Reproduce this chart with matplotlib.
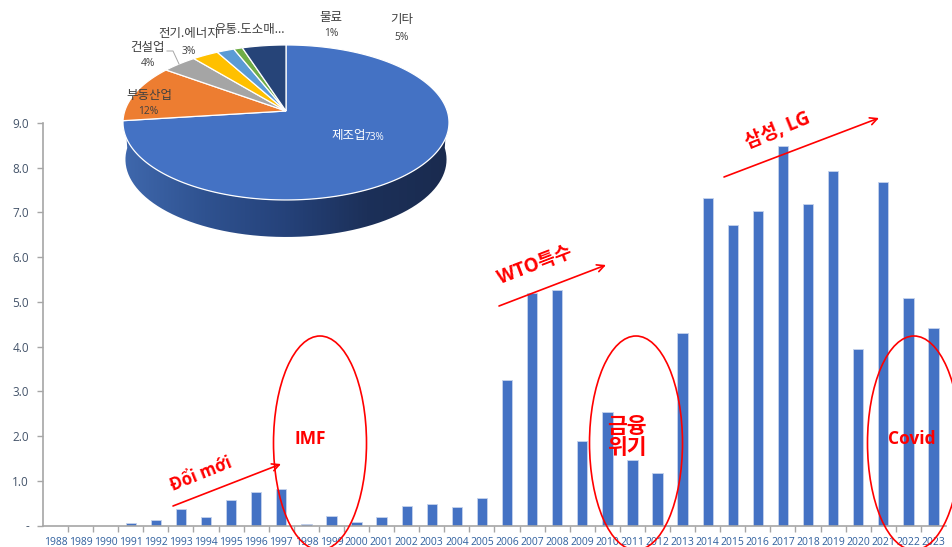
import numpy as np
import matplotlib
matplotlib.use("Agg")
import matplotlib.pyplot as plt
from matplotlib.colors import LinearSegmentedColormap
from matplotlib.patches import Ellipse, PathPatch
from matplotlib.path import Path

plt.rcParams["font.family"] = ["Open Sans", "Noto Sans CJK KR", "DejaVu Sans"]

W, H = 953, 547

years = list(range(1988, 2024))
fdi = [0, 0, 0, 0.05, 0.12, 0.38, 0.18, 0.58, 0.76, 0.82, 0.04, 0.21, 0.08,
       0.19, 0.44, 0.48, 0.41, 0.62, 3.26, 5.20, 5.27, 1.89, 2.54, 1.47, 1.17,
       4.30, 7.33, 6.73, 7.03, 8.48, 7.20, 7.92, 3.95, 7.69, 5.09, 4.41]
y_ticks = [0, 1, 2, 3, 4, 5, 6, 7, 8, 9]

sectors = ["제조업", "부동산업", "건설업", "전기.에너지", "유통.도소매...", "물료", "기타"]
shares = [73, 12, 4, 3, 2, 1, 5]
pie_colors = ["#4472c4", "#ed7d31", "#a5a5a5", "#ffc000", "#5b9bd5", "#70ad47", "#264478"]


def px_axes(fig, left, top, right, bottom, **kw):
    return fig.add_axes([left / W, 1 - bottom / H, (right - left) / W, (bottom - top) / H], **kw)


fig = plt.figure(figsize=(W / 100, H / 100), dpi=100)

# bar chart
ax = px_axes(fig, 43, 123, 946, 525.5)
x = np.arange(len(years))
ax.bar(x, fdi, width=0.41, color="#4472c4", edgecolor="#c5d3ec", linewidth=0.6)
ax.set_xlim(-0.5, len(years) - 0.5)
ax.set_ylim(0, 9)
ax.set_yticks(y_ticks)
ax.set_yticklabels(["-"] + [f"{v:.1f}" for v in y_ticks[1:]], fontsize=8.5, color="#44546a")
ax.set_xticks(x)
ax.set_xticklabels(years, fontsize=7.5, color="#2f5f9e")
ax.set_xticks(x[:-1] + 0.5, minor=True)
ax.tick_params(axis="x", which="major", length=0, pad=8)
ax.tick_params(axis="x", which="minor", length=4, color="#a6a6a6", width=1)
ax.tick_params(axis="y", length=4, color="#a6a6a6", width=1, pad=6)
for side in ["top", "right"]:
    ax.spines[side].set_visible(False)
for side in ["left", "bottom"]:
    ax.spines[side].set_color("#a6a6a6")
    ax.spines[side].set_linewidth(1.2)

# overlay in pixel coordinates for pie, labels, circles and arrows
ov = px_axes(fig, 0, 0, W, H)
ov.set_xlim(0, W)
ov.set_ylim(H, 0)
ov.axis("off")
ov.patch.set_alpha(0)

# 3d pie: perspective tilt, so the apex sits above the centre of the ellipse
cx, cy = 286, 111
persp, pa, pb = 0.148, 161.2, 75.8


def project(ang):
    u, v = np.sin(ang), np.cos(ang)
    w = 1 + persp * v
    return cx + pa * u / w, cy - pb * v / w


# side wall first
t = np.linspace(np.pi / 2, 3 * np.pi / 2, 150)
top_x, top_y = project(t)
bot_x = 285.5 + (top_x - 285.5) * 0.985
bot_y = top_y + 37
side_path = Path(np.r_[np.c_[top_x, top_y], np.c_[bot_x, bot_y][::-1], [[top_x[0], top_y[0]]]])
side_cmap = LinearSegmentedColormap.from_list(
    "side", ["#3f68ad", "#2f5290", "#25427a", "#1c3059", "#1a2b4f"])
grad = ov.imshow(np.linspace(0, 1, 256)[None, :], cmap=side_cmap,
                 extent=(123, 448, 240, 100), aspect="auto", zorder=1)
clip = PathPatch(side_path, transform=ov.transData, facecolor="none", edgecolor="none")
ov.add_patch(clip)
grad.set_clip_path(clip)
ov.set_xlim(0, W)
ov.set_ylim(H, 0)

# clockwise from 12 o'clock, counter-clockwise order gives the same look as the source
edges = np.cumsum([0] + shares) / sum(shares) * 2 * np.pi
for a0, a1, col in zip(edges[:-1], edges[1:], pie_colors):
    arc = np.linspace(a0, a1, max(3, int((a1 - a0) * 60)))
    ax_, ay_ = project(arc)
    ov.fill(np.r_[cx, ax_], np.r_[cy, ay_], facecolor=col, edgecolor="white", linewidth=0.9, zorder=2)

dark = "#404040"
pie_labels = [
    (149, 95, sectors[1], 148, 111, "12%"),
    (148, 47, sectors[2], 148, 64, "4%"),
    (189, 34, sectors[3], 189, 52, "3%"),
    (250, 29, sectors[4], None, None, None),
    (331, 17, sectors[5], 331, 34, "1%"),
    (402, 20, sectors[6], 402, 37, "5%"),
]
for lx, ly, name, vx, vy, val in pie_labels:
    ov.text(lx, ly, name, ha="center", va="center", fontsize=9, color=dark, zorder=4)
    if val:
        ov.text(vx, vy, val, ha="center", va="center", fontsize=7.4, color=dark, zorder=4)
ov.text(331, 136, sectors[0], ha="left", va="center", fontsize=9, color="white", zorder=4)
ov.text(365, 137, "73%", ha="left", va="center", fontsize=7.2, color="white", zorder=4)
ov.plot([167, 173, 179], [51, 51, 64], color="#a6a6a6", lw=0.7, zorder=3)

red = "#ff0000"
for ex in [320, 636, 914]:
    ov.add_patch(Ellipse((ex, 443), 93, 214, fill=False, edgecolor=red, linewidth=1.2, zorder=3))

arrows = [((173, 506), (281, 464)), ((499, 306), (606, 265)), ((724, 177), (879, 118))]
for start, end in arrows:
    ov.annotate("", xy=end, xytext=start,
                arrowprops=dict(arrowstyle="->", color=red, lw=1.2, mutation_scale=13,
                                shrinkA=0, shrinkB=0))

ov.text(310, 439, "IMF", color=red, fontsize=12.5, fontweight="bold", ha="center", va="center")
ov.text(627, 438, "금융\n위기", color=red, fontsize=15.5, fontweight="bold", ha="center", va="center",
        linespacing=1.05)
ov.text(912, 439, "Covid", color=red, fontsize=12.5, fontweight="bold", ha="center", va="center")
ov.text(201, 474, "Đổi mới", color=red, fontsize=12, fontweight="bold", ha="center", va="center", rotation=22)
ov.text(535, 265, "WTO특수", color=red, fontsize=13.5, fontweight="bold", ha="center", va="center", rotation=21)
ov.text(778, 131, "삼성, LG", color=red, fontsize=13.5, fontweight="bold", ha="center", va="center", rotation=22)

fig.savefig("out.png", dpi=100)
